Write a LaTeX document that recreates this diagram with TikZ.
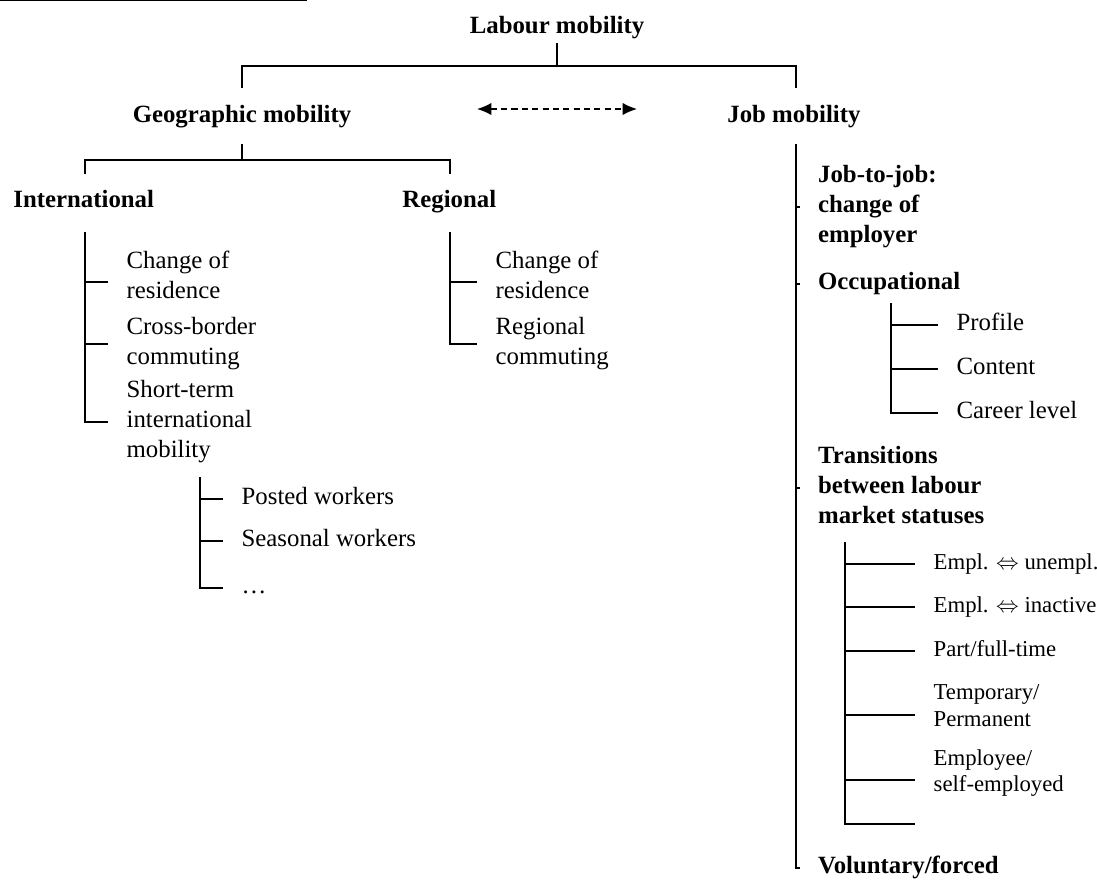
\documentclass[tikz,border=0pt]{standalone}
\usepackage{fontspec}
\setmainfont{Liberation Serif}
\usetikzlibrary{arrows.meta, calc}
\tikzset{
every node/.style={inner sep=0pt}, % text sits right on its position
head/.style={font=\fontsize{12}{14.5}\selectfont\bfseries}, % the headings of the tree
item/.style={font=\fontsize{12}{14.5}\selectfont, align=left, anchor=west, inner xsep=0.31cm}, % the entries hanging off a bracket
bolditem/.style={item, font=\fontsize{12}{14.5}\selectfont\bfseries},
small/.style={item, font=\fontsize{11}{13}\selectfont}, % the status changes
one/.style={text height=8pt, text depth=2.4pt}, % single lines
tree/.style={line width=0.65pt}, % the brackets
head tip/.tip={Latex[length=7pt,width=6pt]},
}

\begin{document}
\begin{tikzpicture}[x=0.017cm, y=-0.017cm]
       \useasboundingbox (0,0) rectangle (1097,881);
       \draw[line width=0.5pt] (0,0.8) -- (307,0.8);

       % headings
       \node[head, anchor=base] (labour) at (557,33) {Labour mobility};
       \node[head, anchor=base] (geo) at (242,122) {Geographic mobility};
       \node[head, anchor=base west] (job) at (727,122) {Job mobility};
       \node[head, anchor=base west] (intl) at (13,207) {International};
       \node[head, anchor=base west] (reg) at (402,207) {Regional};

       % international
       \node[item] (ichange) at (108,274.5) {Change of\\residence};
       \node[item] (icross) at (108,344) {Cross-border\\commuting};
       \node[item] (ishort) at (108,422) {Short-term\\international\\mobility};
       \node[item, one] (ppost) at (223,499) {Posted workers};
       \node[item, one] (pseas) at (223,541) {Seasonal workers};
       \node[item, one] (pdots) at (223,588) {…};

       % regional
       \node[item] (rchange) at (477,274.5) {Change of\\residence};
       \node[item] (rcomm) at (477,344) {Regional\\commuting};

       % job
       \node[bolditem] (jjob) at (799.5,207) {Job-to-job:\\change of\\employer};
       \node[bolditem, one] (jocc) at (799.5,284) {Occupational};
       \node[item, one] (oprof) at (938,325) {Profile};
       \node[item, one] (ocont) at (938,369) {Content};
       \node[item, one] (ocar) at (938,413) {Career level};
       \node[bolditem] (jtrans) at (799.5,485.5) {Transitions\\between labour\\market statuses};
       \node[small, one] (tunemp) at (915,564) {Empl. $\Leftrightarrow$ unempl.};
       \node[small, one] (tinact) at (915,607) {Empl. $\Leftrightarrow$ inactive};
       \node[small, one] (tpart) at (915,651) {Part/full-time};
       \node[small] (ttemp) at (915,705.5) {Temporary/\\Permanent};
       \node[small] (tself) at (915,773) {Employee/\\self-employed};
       \node[bolditem, one] (jvol) at (799.5,868) {Voluntary/forced};

       % bracket points
       \coordinate (lroot) at (557,43);
       \coordinate (lbar) at (557,66);
       \coordinate (gtop) at (242,88);
       \coordinate (jtop) at (796,88);
       \coordinate (gbot) at (242,144);
       \coordinate (gbar) at (242,160);
       \coordinate (itop) at (85,174);
       \coordinate (rtop) at (450,174);
       \coordinate (ivert) at (85,232);
       \coordinate (rvert) at (450,232);
       \coordinate (pvert) at (200,477);
       \coordinate (jvert) at (796,144);
       \coordinate (overt) at (891,303);
       \coordinate (tvert) at (845,542);
       \coordinate (tend) at (915,824);
       \coordinate (dleft) at (477,109);
       \coordinate (dright) at (637,109);

     \draw[tree] (lroot) -- (lbar)
           (gtop) |- (lbar) -| (jtop)
           (gbot) -- (gbar)
           (itop) |- (gbar) -| (rtop);
     \draw[tree, dash pattern=on 3pt off 2pt, head tip-head tip] (dleft) -- (dright);

     \draw[tree] (ivert) |- (ishort.west)
           ($(ivert |- ichange.west)+(0,7.5)$) -- ($(ichange.west)+(0,7.5)$)
           (ivert |- icross.west) -- (icross.west);
     \draw[tree] (rvert) |- (rcomm.west)
           ($(rvert |- rchange.west)+(0,7.5)$) -- ($(rchange.west)+(0,7.5)$);
     \draw[tree] (pvert) |- (pdots.west)
           (pvert |- ppost.west) -- (ppost.west)
           (pvert |- pseas.west) -- (pseas.west);

     \draw[tree] (jvert) |- (jvol.west)
           (jvert |- jjob.west) -- (jjob.west)
           (jvert |- jocc.west) -- (jocc.west)
           ($(jvert |- jtrans.west)+(0,2.5)$) -- ($(jtrans.west)+(0,2.5)$);
     \draw[tree] (overt) |- (ocar.west)
           (overt |- oprof.west) -- (oprof.west)
           (overt |- ocont.west) -- (ocont.west);
     \draw[tree] (tvert) |- (tend)
           (tvert |- tunemp.west) -- (tunemp.west)
           (tvert |- tinact.west) -- (tinact.west)
           (tvert |- tpart.west) -- (tpart.west)
           ($(tvert |- ttemp.west)+(0,9.5)$) -- ($(ttemp.west)+(0,9.5)$)
           ($(tvert |- tself.west)+(0,7)$) -- ($(tself.west)+(0,7)$);

  \end{tikzpicture}
\end{document}
